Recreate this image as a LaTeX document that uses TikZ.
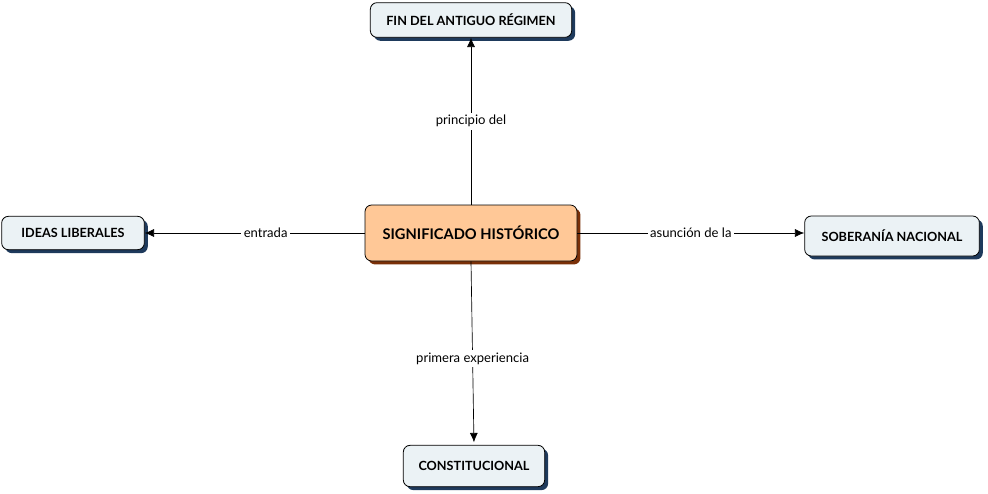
\documentclass[tikz,border=0pt]{standalone}
\usepackage{fontspec}
\setmainfont{Lato}
\usetikzlibrary{arrows.meta, shadows}

\definecolor{leaffill}{HTML}{EBF2F5}
\definecolor{leafshade}{HTML}{1E3A5C}
\definecolor{corefill}{HTML}{FFC897}
\definecolor{coreshade}{HTML}{7A3008}

\begin{document}
\begin{tikzpicture}[
    x=0.75pt, y=-0.75pt,
    leaf/.style={rectangle, draw, rounded corners=5pt, align=center, fill=leaffill, line width=0.6pt,
        font=\fontsize{9.5}{11}\selectfont\bfseries, inner sep=0pt,
        general shadow={fill=leafshade, shadow xshift=2.6pt, shadow yshift=-2.6pt}},
    core/.style={rectangle, draw, rounded corners=5pt, align=center, fill=corefill, line width=0.6pt,
        font=\fontsize{11}{13}\selectfont\bfseries, inner sep=0pt,
        general shadow={fill=coreshade, shadow xshift=2.6pt, shadow yshift=-2.6pt}},
    tag/.style={fill=white, font=\fontsize{9.8}{11}\selectfont, inner sep=2pt},
    arrow/.style={-{Latex[length=7pt, width=6pt]}, line width=0.5pt}
]
\useasboundingbox (0,0) rectangle (988,493);

% Central concept
\node[core, minimum width=159pt, minimum height=42pt] (significado) at (471, 233) {SIGNIFICADO HISTÓRICO};

% Surrounding concepts
\node[leaf, minimum width=151pt, minimum height=26pt] (antiguo)  at (471, 20)  {FIN DEL ANTIGUO RÉGIMEN};
\node[leaf, minimum width=107pt, minimum height=25pt] (ideas)    at (73, 233)  {IDEAS LIBERALES};
\node[leaf, minimum width=131pt, minimum height=30pt] (soberania) at (892, 236) {SOBERANÍA NACIONAL};
\node[leaf, minimum width=106pt, minimum height=31pt] (constitucional) at (474, 466) {CONSTITUCIONAL};

% Links with labels
\draw[arrow] (significado.north) -- node[tag] {principio del} (antiguo.south);
\draw[arrow] (significado.west) -- node[tag, pos=0.45] {entrada} (ideas.east);
\draw[arrow] (significado.east) -- node[tag] {asunción de la} (significado.east -| soberania.west);
\draw[arrow, shorten >=2pt] (significado.south) -- node[tag, pos=0.53] {primera experiencia} (constitucional.north);

\end{tikzpicture}
\end{document}
